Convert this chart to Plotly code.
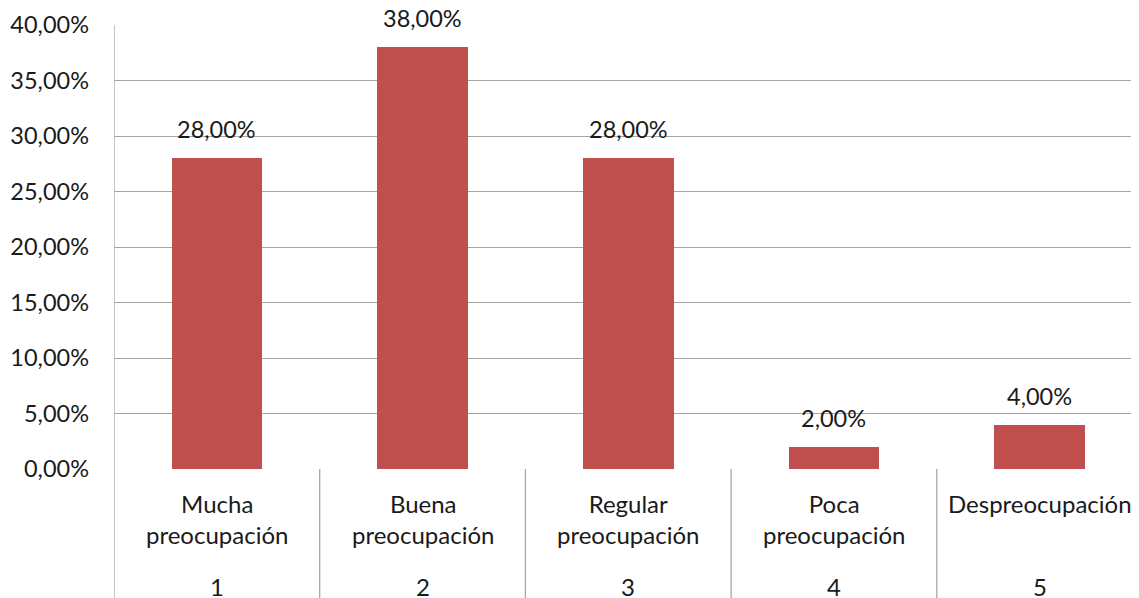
import plotly.graph_objects as go

categories = ["Mucha<br>preocupación", "Buena<br>preocupación", "Regular<br>preocupación",
              "Poca<br>preocupación", "Despreocupación"]
group_labels = ["1", "2", "3", "4", "5"]
values = [0.28, 0.38, 0.28, 0.02, 0.04]
tick_vals = [0, 0.05, 0.10, 0.15, 0.20, 0.25, 0.30, 0.35, 0.40]

FONT = "Lato"
TXT = "#1a1a1a"
GRID = "#A6A6A6"
# page body adds an 8px offset, so figure is shrunk accordingly
OFF = 8
W, H = 1139 - OFF, 598 - OFF
ML, MT = 114 - OFF, 25 - OFF
plot_h = 444
MB = H - MT - plot_h
CAT_W = 205.7

xs = list(range(len(categories)))
fig = go.Figure()
fig.add_trace(go.Bar(x=xs, y=values, width=0.44, marker=dict(color="#C0504D", line=dict(width=0)),
                     hoverinfo="skip"))

ann = []
for x, v in zip(xs, values):
    ann.append(dict(x=x, y=v, xref="x", yref="y", text=f"{v*100:.2f}%".replace(".", ","),
                    showarrow=False, yanchor="bottom", yshift=13,
                    font=dict(family=FONT, size=23.5, color=TXT)))
for x, c, g in zip(xs, categories, group_labels):
    ann.append(dict(x=x, y=-18 / plot_h, xref="x", yref="paper", text=c, showarrow=False,
                    yanchor="top", font=dict(family=FONT, size=24, color=TXT)))
    ann.append(dict(x=x, y=-101 / plot_h, xref="x", yref="paper", text=g, showarrow=False,
                    yanchor="top", font=dict(family=FONT, size=24, color=TXT)))

shapes = []
for i in range(len(categories) + 1):
    shapes.append(dict(type="line", xref="x", yref="paper", x0=i - 0.5, x1=i - 0.5,
                       y0=(1 if i == 0 else 0), y1=-(MB + 5) / plot_h,
                       line=dict(color=GRID, width=1.3)))

fig.update_layout(
    width=W, height=H,
    margin=dict(l=ML, r=0, t=MT, b=MB),
    paper_bgcolor="white", plot_bgcolor="white",
    separators=",.",
    showlegend=False,
    bargap=0,
    annotations=ann,
    shapes=shapes,
    xaxis=dict(range=[-0.5, -0.5 + (W - ML) / CAT_W], showticklabels=False, showgrid=False,
               zeroline=False, showline=False, ticks=""),
    yaxis=dict(range=[0, 0.40], tickvals=tick_vals, tickformat=".2%", showgrid=True,
               gridcolor=GRID, gridwidth=1.3, zeroline=False, showline=False, ticks="",
               ticklabelstandoff=24,
               tickfont=dict(family=FONT, size=23.5, color=TXT)),
)
fig.write_html("out.html")
